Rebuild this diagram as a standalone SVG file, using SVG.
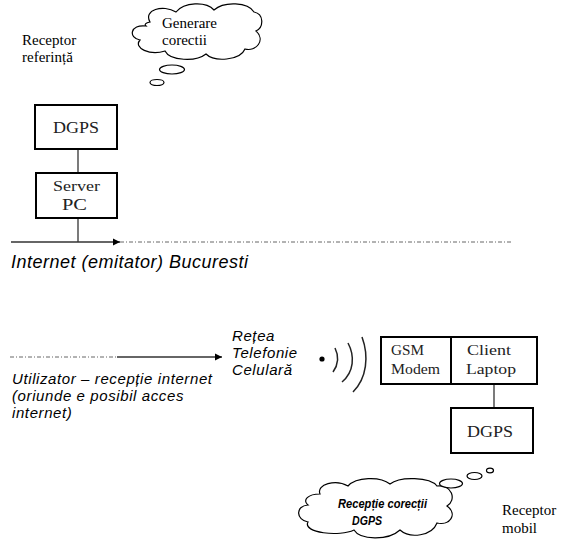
<svg xmlns="http://www.w3.org/2000/svg" width="579" height="541" viewBox="0 0 579 541">
<defs>
<style>
.box{fill:#fff;stroke:#000;stroke-width:2}
.ln{fill:none;stroke:#333;stroke-width:1.3}
.dash{fill:none;stroke:#666;stroke-width:1;stroke-dasharray:4 2 1 2}
.cloud{fill:#fff;stroke:#000;stroke-width:1.2}
.serif{font-family:"Liberation Serif","Times New Roman",serif;font-size:15px;fill:#000}
.node{font-family:"Liberation Serif","Times New Roman",serif;font-size:15px;fill:#222}
.big{font-size:17.5px}
.it{font-family:"Liberation Sans",Arial,sans-serif;font-style:italic;font-size:15px;letter-spacing:0.6px;fill:#000}
.bi{font-family:"Liberation Sans",Arial,sans-serif;font-style:italic;font-weight:bold;font-size:13.5px;fill:#000}
.wave{fill:none;stroke:#222;stroke-width:1.5}
</style>
<marker id="arr" markerWidth="8" markerHeight="8" refX="7" refY="4" orient="auto" markerUnits="userSpaceOnUse">
<path d="M0,0.5 L7,4 L0,7.5 Z" fill="#000"/>
</marker>
</defs>
<rect width="579" height="541" fill="#fff"/>

<g id="connectors">
<line class="ln" x1="78" y1="149" x2="78" y2="173"/>
<line class="ln" x1="78" y1="218" x2="78" y2="242"/>
<line class="ln" x1="11" y1="242" x2="120" y2="242" marker-end="url(#arr)"/>
<line class="dash" x1="120" y1="242" x2="512" y2="242"/>
<line class="dash" x1="10" y1="357" x2="117" y2="357"/>
<line class="ln" x1="117" y1="357" x2="222" y2="357" marker-end="url(#arr)"/>
<line class="ln" x1="494" y1="384" x2="494" y2="408"/>
</g>

<g id="cloud-generare">
<path class="cloud" d="M150,22 C143,10 163,4 176,12 C184,2 206,1 214,10 C224,1 248,2 254,12 C264,14 264,27 256,31 C266,40 256,52 245,49 C240,61 214,62 206,54 C196,62 170,61 165,51 C150,56 133,48 140,40 C128,38 130,24 146,26 C144,24 146,23 150,22 Z"/>
<ellipse class="cloud" cx="172" cy="69.5" rx="12.5" ry="4.5"/>
<ellipse class="cloud" cx="157" cy="82.5" rx="7" ry="3"/>
<text class="serif" x="162" y="28">Generare</text>
<text class="serif" x="162" y="45">corectii</text>
</g>

<g id="label-receptor-ref">
<text class="serif" x="22" y="45">Receptor</text>
<text class="serif" x="22" y="62">referință</text>
</g>

<g id="dgps-top">
<rect class="box" x="35" y="105" width="82" height="44"/>
<text class="node big" x="53" y="133" textLength="46" lengthAdjust="spacingAndGlyphs">DGPS</text>
</g>

<g id="server-pc">
<rect class="box" x="36" y="173" width="81" height="45"/>
<text class="node" x="53" y="191" textLength="47" lengthAdjust="spacingAndGlyphs">Server</text>
<text class="node" x="62" y="210" style="font-size:16px" textLength="25" lengthAdjust="spacingAndGlyphs">PC</text>
</g>

<g id="label-internet">
<text class="it" x="11" y="268" style="font-size:18px;letter-spacing:0.5px">Internet (emitator) Bucuresti</text>
</g>

<g id="label-utilizator">
<text class="it" x="12" y="384">Utilizator – recepție internet</text>
<text class="it" x="12" y="401">(oriunde e posibil acces</text>
<text class="it" x="12" y="418">internet)</text>
</g>

<g id="label-retea">
<text class="it" x="232" y="341">Rețea</text>
<text class="it" x="232" y="358">Telefonie</text>
<text class="it" x="232" y="375">Celulară</text>
</g>

<g id="signal">
<circle cx="322" cy="359" r="2.6" fill="#000"/>
<path class="wave" d="M335,348 C339,356 338,365 333,372"/>
<path class="wave" d="M348,343 C355,356 354,372 342,382"/>
<path class="wave" d="M362,337 C369,356 367,378 353,392"/>
</g>

<g id="gsm-client">
<rect class="box" x="381" y="337" width="156" height="47"/>
<line x1="451" y1="337" x2="451" y2="384" stroke="#000" stroke-width="2"/>
<text class="node" x="391" y="355" textLength="33" lengthAdjust="spacingAndGlyphs">GSM</text>
<text class="node" x="391" y="374" textLength="49" lengthAdjust="spacingAndGlyphs">Modem</text>
<text class="node" x="467" y="355" textLength="44" lengthAdjust="spacingAndGlyphs">Client</text>
<text class="node" x="466" y="374" textLength="50" lengthAdjust="spacingAndGlyphs">Laptop</text>
</g>

<g id="dgps-bottom">
<rect class="box" x="451" y="408" width="82" height="45"/>
<text class="node big" x="467" y="437" textLength="46" lengthAdjust="spacingAndGlyphs">DGPS</text>
</g>

<g id="cloud-receptie">
<path class="cloud" d="M320,494 C316,484 336,479 348,486 C356,477 380,476 390,484 C400,476 430,477 437,486 C452,484 457,500 447,506 C458,514 450,526 437,523 C432,536 410,539 400,530 C388,541 360,540 354,530 C340,537 302,533 308,522 C296,520 295,506 308,505 C302,500 308,494 320,494 Z"/>
<ellipse class="cloud" cx="451" cy="483.5" rx="11.5" ry="4.5"/>
<ellipse class="cloud" cx="474.5" cy="476" rx="7.5" ry="3.5"/>
<ellipse class="cloud" cx="490" cy="470.5" rx="3.5" ry="2.3"/>
<text class="bi" x="338" y="508" textLength="89" lengthAdjust="spacingAndGlyphs">Recepție corecții</text>
<text class="bi" x="352" y="525" textLength="30" lengthAdjust="spacingAndGlyphs">DGPS</text>
</g>

<g id="label-receptor-mobil">
<text class="serif" x="502" y="515">Receptor</text>
<text class="serif" x="502" y="533">mobil</text>
</g>
</svg>
